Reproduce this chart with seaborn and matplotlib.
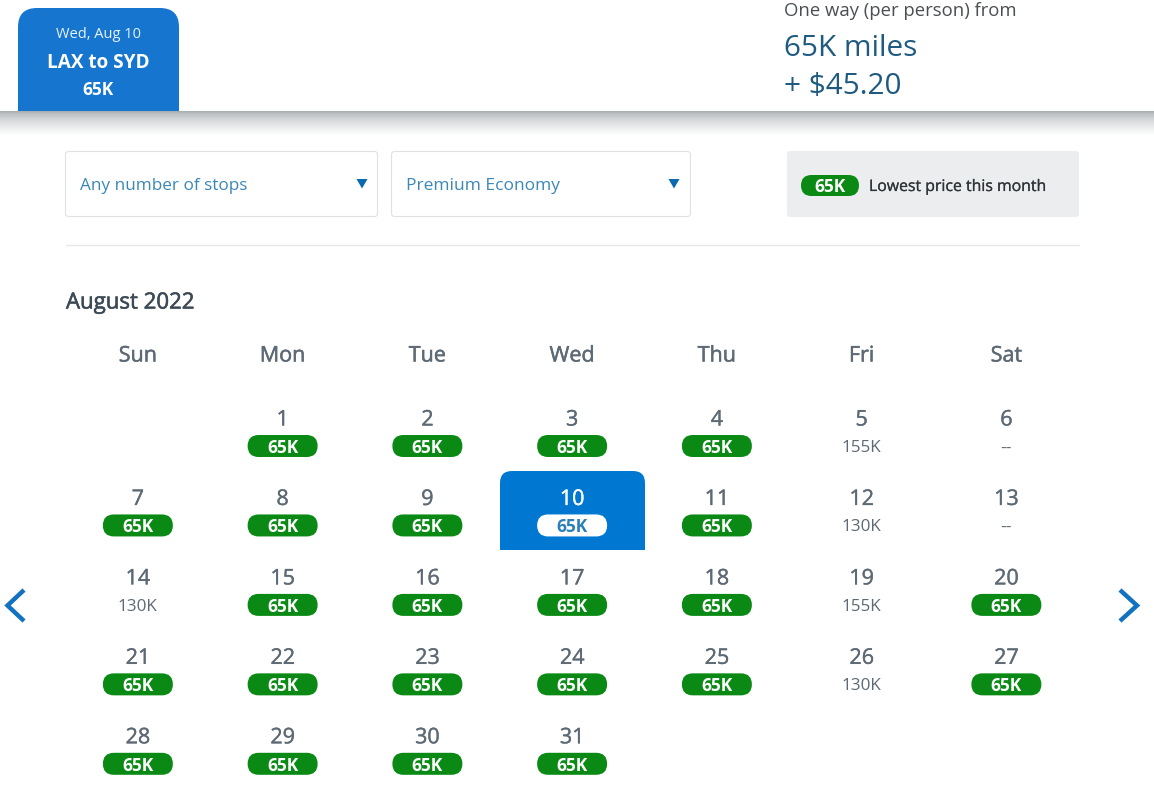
import numpy as np
import pandas as pd
import matplotlib
matplotlib.use("Agg")
import matplotlib.pyplot as plt
import matplotlib.patheffects as pe
import seaborn as sns
from matplotlib.colors import ListedColormap
from matplotlib.patches import FancyBboxPatch, Rectangle, Polygon

sns.set_theme(style="white")
plt.rcParams["font.family"] = ["Open Sans", "DejaVu Sans"]

# ---------------- DATA ----------------
weekdays = ["Sun", "Mon", "Tue", "Wed", "Thu", "Fri", "Sat"]
days = list(range(1, 32))
prices = [65, 65, 65, 65, 155, None, 65, 65, 65, 65, 65, 130, None, 130, 65, 65,
          65, 65, 155, 65, 65, 65, 65, 65, 65, 130, 65, 65, 65, 65, 65]
lowest = 65
selected_day = 10
first_col = 1  # Aug 1 2022 was a Monday

# ---------------- COLOURS ----------------
BLUE = "#0078d2"
TAB_BLUE = "#1675cf"
GREEN = "#0a8a14"
GRAY = "#5d6a75"
DARK = "#3c4a57"
LINK = "#3a87b8"
NAVY = "#1f5a80"

W, H = 1154, 800
LEFT, TOP, CW, CH = 65.5, 391.5, 144.75, 79.45

cal = pd.DataFrame({"day": days, "price": prices})
cal["col"] = (cal["day"] - 1 + first_col) % 7
cal["row"] = (cal["day"] - 1 + first_col) // 7

fig = plt.figure(figsize=(W / 100, H / 100), dpi=100)

# calendar grid, only the selected cell is coloured
ax_cal = fig.add_axes([LEFT / W, 1 - (TOP + 5 * CH) / H, 7 * CW / W, 5 * CH / H])
is_sel = cal.assign(sel=(cal["day"] == selected_day).astype(int)).pivot(index="row", columns="col", values="sel")
sns.heatmap(is_sel, ax=ax_cal, cmap=ListedColormap([BLUE]), mask=is_sel.fillna(0) == 0,
            cbar=False, xticklabels=False, yticklabels=False)
ax_cal.set_xlabel("")
ax_cal.set_ylabel("")

# page overlay in pixel units
ax = fig.add_axes([0, 0, 1, 1], facecolor="none")
ax.set_xlim(0, W)
ax.set_ylim(H, 0)
ax.axis("off")


def cell_x(col):
    return LEFT + (col + 0.5) * CW


def cell_y(row):
    return TOP + row * CH


def rbox(x0, y0, x1, y1, r, **kw):
    p = FancyBboxPatch((x0 + r, y0 + r), x1 - x0 - 2 * r, y1 - y0 - 2 * r,
                       boxstyle=f"round,pad={r},rounding_size={r}", **kw)
    ax.add_patch(p)
    return p


def medium(txt, w=0.45):
    # Open Sans has no usable medium weight here, thicken the regular a bit
    txt.set_path_effects([pe.withStroke(linewidth=w, foreground=txt.get_color())])
    return txt


def pill(cx, cy, text, face, color):
    rbox(cx - 35, cy - 11, cx + 35, cy + 11, 11, fc=face, ec="none", zorder=3)
    ax.text(cx, cy, text, ha="center", va="center_baseline", fontsize=12.5,
            fontweight="bold", color=color, zorder=4)


# round the top of the selected cell
sel = cal[cal["day"] == selected_day].iloc[0]
sx = cell_x(sel["col"])
sy = cell_y(sel["row"])
clip = FancyBboxPatch((sx - CW / 2 + 12, sy + 12), CW - 24, CH + 8,
                      boxstyle="round,pad=12,rounding_size=12", transform=ax.transData,
                      fc="none", ec="none")
ax.add_patch(clip)
ax_cal.collections[0].set_clip_path(clip)

# ---------------- HEADER ----------------
shadow = np.linspace(0, 1, 64).reshape(-1, 1) ** 0.6
ax.imshow(shadow, extent=(0, W, 136, 111), cmap=ListedColormap(sns.blend_palette(["#a4a9ad", "#ffffff"], 64)),
          aspect="auto", zorder=1)
ax.set_xlim(0, W)
ax.set_ylim(H, 0)

rbox(18, 8, 179, 130, 19, fc=TAB_BLUE, ec="none", zorder=0.5)
ax.add_patch(Rectangle((0, 111), W, 30, fc="white", ec="none", zorder=0.8))
ax.text(98, 35, "Wed, Aug 10", ha="center", va="center", fontsize=10.5, color="#e8f2fb", zorder=2)
ax.text(98, 63.5, "LAX to SYD", ha="center", va="center", fontsize=13.7, fontweight="bold", color="white", zorder=2)
ax.text(98, 90, "65K", ha="center", va="center", fontsize=12.5, fontweight="bold", color="white", zorder=2)

ax.text(784, 11, "One way (per person) from", ha="left", va="center", fontsize=13.3, color="#4a4f54")
ax.text(784, 48.5, "65K miles", ha="left", va="center", fontsize=21.4, color=NAVY)
ax.text(784, 86.5, "+ $45.20", ha="left", va="center", fontsize=21.4, color=NAVY)

# ---------------- FILTERS ----------------
rbox(65.5, 151.5, 377.5, 216.5, 3, fc="white", ec="#dfe2e5", lw=0.8, zorder=2)
rbox(391.5, 151.5, 690.5, 216.5, 3, fc="white", ec="#dfe2e5", lw=0.8, zorder=2)
ax.text(80, 186, "Any number of stops", ha="left", va="center", fontsize=12.3, color=LINK, zorder=3)
ax.text(406, 186, "Premium Economy", ha="left", va="center", fontsize=12.5, color=LINK, zorder=3)
for tx in (362, 674):
    ax.add_patch(Polygon([(tx - 5.5, 179), (tx + 5.5, 179), (tx, 188.5)], fc="#0a6ab0", ec="none", zorder=3))

rbox(787, 151, 1079, 217, 3, fc="#ebedef", ec="none", zorder=2)
rbox(801, 175, 859, 196, 10.5, fc=GREEN, ec="none", zorder=3)
ax.text(830, 185, f"{lowest}K", ha="center", va="center_baseline", fontsize=12.5,
        fontweight="bold", color="white", zorder=4)
medium(ax.text(869, 187, "Lowest price this month", ha="left", va="center", fontsize=11.4,
               color="#2f3438", zorder=4), 0.15)
ax.plot([65.5, 1079], [245, 245], color="#e6e8ea", lw=1)

# ---------------- CALENDAR ----------------
medium(ax.text(66, 303, "August 2022", ha="left", va="center", fontsize=16, color=DARK), 0.4)
for i, name in enumerate(weekdays):
    medium(ax.text(cell_x(i), 356, name, ha="center", va="center", fontsize=15.5, color=GRAY), 0.35)

for row in cal.itertuples():
    x = cell_x(row.col)
    y = cell_y(row.row)
    is_selected = row.day == selected_day
    medium(ax.text(x, y + 28.5, str(row.day), ha="center", va="center", fontsize=15.5,
                   color="white" if is_selected else GRAY, zorder=4), 0.25)
    if pd.isna(row.price):
        ax.text(x, y + 57, "--", ha="center", va="center", fontsize=12.5, color=GRAY, zorder=4)
    elif is_selected:
        pill(x, y + 54.5, f"{int(row.price)}K", "white", "#2c7fb8")
    elif row.price == lowest:
        pill(x, y + 54.5, f"{int(row.price)}K", GREEN, "white")
    else:
        ax.text(x, y + 56.5, f"{int(row.price)}K", ha="center", va="center", fontsize=12.3, color=GRAY, zorder=4)

# ---------------- ARROWS ----------------
ax.plot([24, 7.5, 24], [590, 605.5, 621], color="#1272c0", lw=3.2, solid_capstyle="butt", solid_joinstyle="miter")
ax.plot([1120, 1137, 1120], [590, 605.5, 621], color="#1272c0", lw=3.2, solid_capstyle="butt", solid_joinstyle="miter")

fig.savefig("out.png", dpi=100, facecolor="white")
